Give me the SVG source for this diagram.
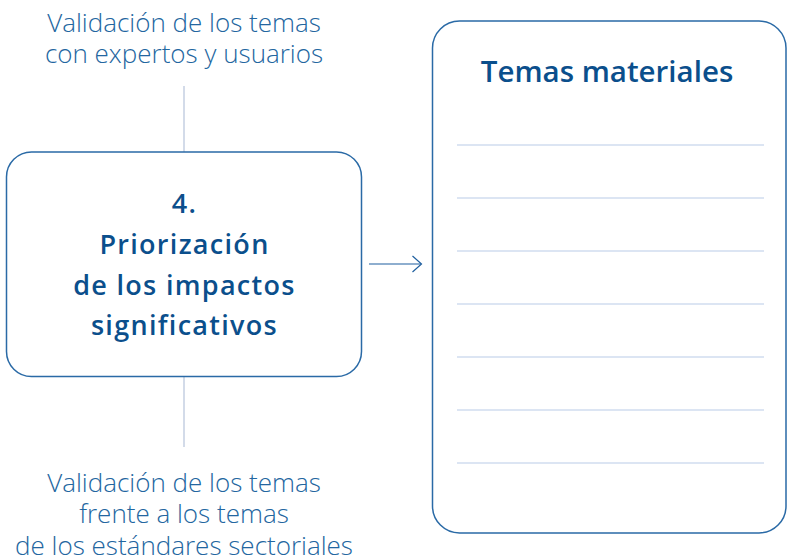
<svg xmlns="http://www.w3.org/2000/svg" width="787" height="560" viewBox="0 0 787 560">
<style>
.lbl{font-family:"Open Sans","Liberation Sans",sans-serif;font-weight:300;font-size:26px;fill:#2366a0;text-anchor:middle}
.bold{font-family:"Open Sans","Liberation Sans",sans-serif;font-weight:600;font-size:27px;letter-spacing:1.3px;fill:#0b4f8c;text-anchor:middle}
.title{font-family:"Open Sans","Liberation Sans",sans-serif;font-weight:600;font-size:29.5px;fill:#0b4f8c;text-anchor:middle}
.box{fill:#fff;stroke:#2a6aa6;stroke-width:1.5}
.rule{stroke:#b9cbe8;stroke-width:1.2}
.conn{stroke:#d3dbe9;stroke-width:2;fill:none}
.arrow{stroke:#1f5f9f;stroke-width:1.2;fill:none}
</style>
<rect width="787" height="560" fill="#fff"/>
<g id="connectors">
<line class="conn" x1="184" y1="86" x2="184" y2="152"/>
<line class="conn" x1="184" y1="377" x2="184" y2="447"/>
<line class="arrow" x1="369" y1="264" x2="421" y2="264"/>
<polyline class="arrow" points="412.5,256 421.5,264 412.5,272"/>
</g>
<g id="label-top">
<text class="lbl" x="184" y="31.5">Validación de los temas</text>
<text class="lbl" x="184" y="63">con expertos y usuarios</text>
</g>
<g id="step4">
<rect class="box" x="6.5" y="152" width="355" height="224.5" rx="25"/>
<text class="bold" x="184.5" y="212.5">4.</text>
<text class="bold" x="184.5" y="253.5">Priorización</text>
<text class="bold" x="184.5" y="294.5">de los impactos</text>
<text class="bold" x="184.5" y="335">significativos</text>
</g>
<g id="label-bottom">
<text class="lbl" x="184" y="491.5">Validación de los temas</text>
<text class="lbl" x="184" y="523">frente a los temas</text>
<text class="lbl" x="184" y="554.5">de los estándares sectoriales</text>
</g>
<g id="temas">
<rect class="box" x="432.5" y="21" width="353.5" height="512" rx="27"/>
<text class="title" x="607" y="81.5">Temas materiales</text>
<line class="rule" x1="457" y1="145" x2="764" y2="145"/>
<line class="rule" x1="457" y1="198" x2="764" y2="198"/>
<line class="rule" x1="457" y1="251" x2="764" y2="251"/>
<line class="rule" x1="457" y1="304" x2="764" y2="304"/>
<line class="rule" x1="457" y1="357" x2="764" y2="357"/>
<line class="rule" x1="457" y1="410" x2="764" y2="410"/>
<line class="rule" x1="457" y1="463" x2="764" y2="463"/>
</g>
</svg>
